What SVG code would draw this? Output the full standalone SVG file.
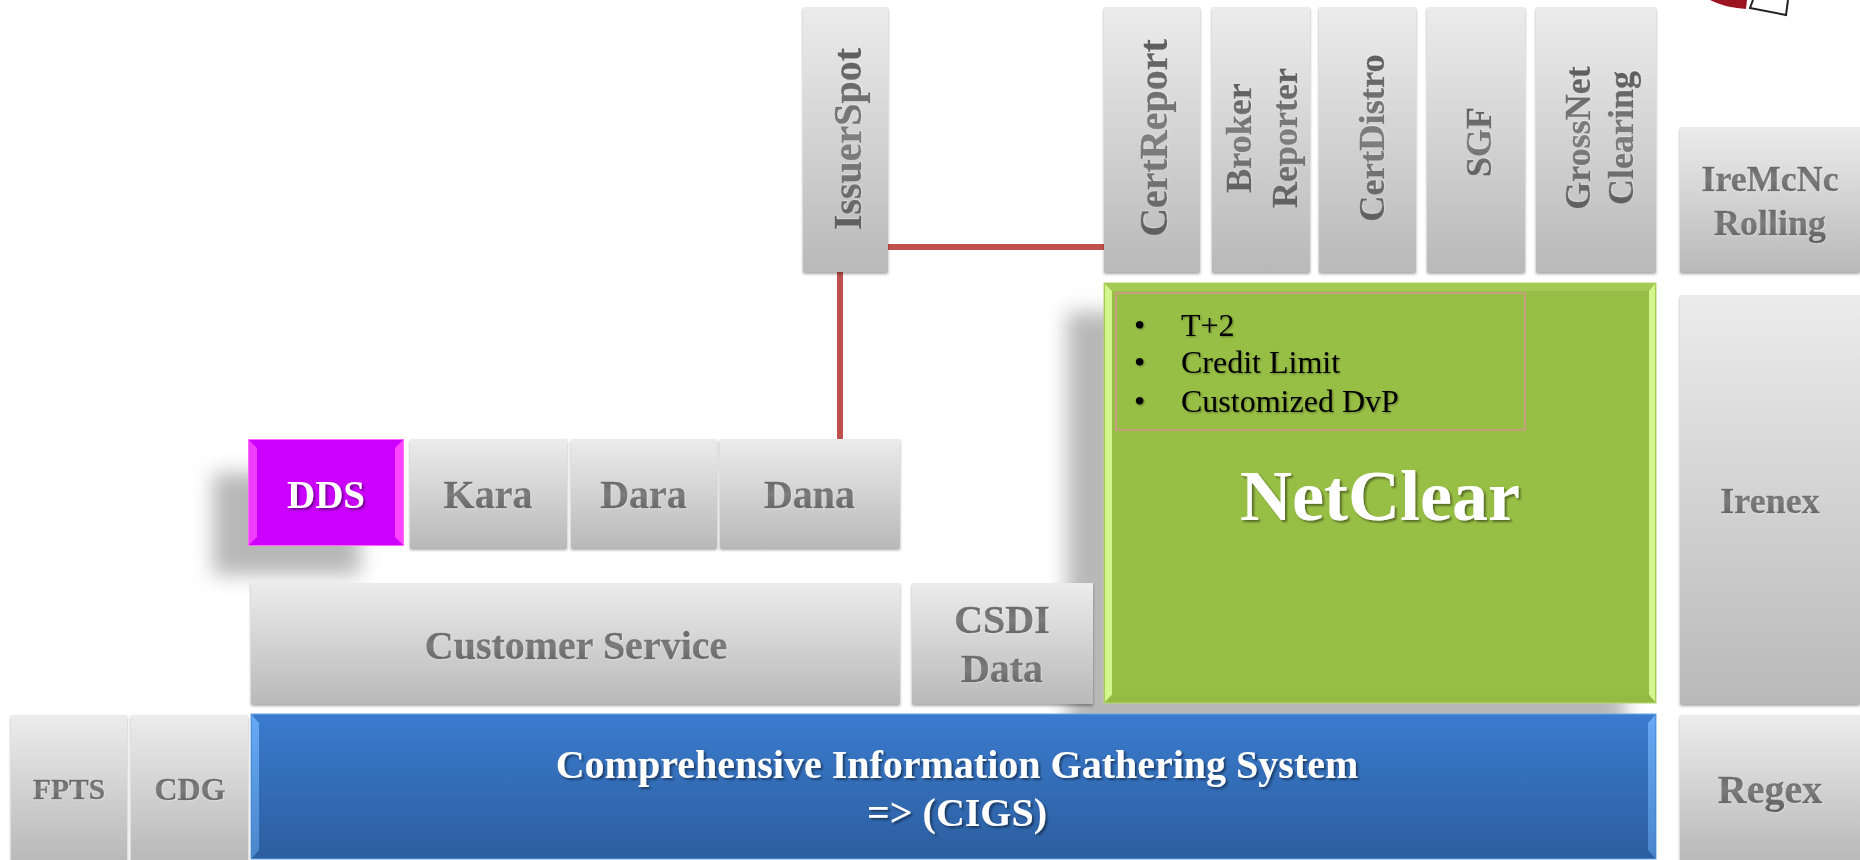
<svg xmlns="http://www.w3.org/2000/svg" width="1860" height="860" viewBox="0 0 1860 860">
<style>
text{font-family:"Liberation Serif","Times New Roman",serif}
.lb{font-weight:bold;fill:url(#metal);stroke:#6a6a6a;stroke-width:.35;filter:url(#eng);text-anchor:middle}
.v{font-weight:bold;fill:url(#metalV);stroke:#6a6a6a;stroke-width:.35;filter:url(#eng);text-anchor:middle}
.gray{fill:url(#g);filter:url(#sm)}
.w{font-weight:bold;fill:#fff;text-anchor:middle;filter:url(#ws)}
.b{font-size:32px;fill:#000;filter:url(#bs)}
.conn{stroke:#c0504d;stroke-width:6;fill:none}
</style>
<defs>
<linearGradient id="g" x1="0" y1="0" x2="0" y2="1"><stop offset="0" stop-color="#ececec"/><stop offset="1" stop-color="#b9b9b9"/></linearGradient>
<linearGradient id="blue" x1="0" y1="0" x2="0" y2="1"><stop offset="0" stop-color="#3a7bce"/><stop offset="1" stop-color="#2c5e9f"/></linearGradient>
<linearGradient id="blueB" x1="0" y1="0" x2="0" y2="1"><stop offset="0" stop-color="#66aaf5"/><stop offset="1" stop-color="#4a86cc"/></linearGradient>
<linearGradient id="metal" x1="0" y1="0" x2="0" y2="1"><stop offset="0" stop-color="#5e5e5e"/><stop offset=".5" stop-color="#7c7c7c"/><stop offset="1" stop-color="#5c5c5c"/></linearGradient>
<linearGradient id="metalV" x1="0" y1="0" x2="1" y2="0"><stop offset="0" stop-color="#5e5e5e"/><stop offset=".5" stop-color="#808080"/><stop offset="1" stop-color="#5c5c5c"/></linearGradient>
<filter id="sm" x="-10%" y="-10%" width="120%" height="120%"><feDropShadow dx="0" dy="2" stdDeviation="1.5" flood-color="#000" flood-opacity=".35"/></filter>
<filter id="eng" x="-10%" y="-20%" width="120%" height="140%"><feDropShadow dx=".6" dy=".6" stdDeviation=".2" flood-color="#fff" flood-opacity=".5"/></filter>
<filter id="ws" x="-10%" y="-20%" width="120%" height="140%"><feDropShadow dx="2" dy="2" stdDeviation="1.2" flood-color="#000" flood-opacity=".45"/></filter>
<filter id="bs" x="-10%" y="-20%" width="120%" height="140%"><feDropShadow dx="1" dy="1" stdDeviation=".8" flood-color="#000" flood-opacity=".35"/></filter>
<filter id="big" x="-20%" y="-20%" width="140%" height="140%"><feGaussianBlur stdDeviation="10"/></filter>
</defs>
<rect width="1860" height="860" fill="#fff"/>

<g id="logo">
<path d="M1710 0C1722 6 1734 8 1746 9L1747 0Z" fill="#9c1420"/>
<path d="M1753 0L1750 8L1786 15L1788 0" fill="#fff" stroke="#222" stroke-width="2"/>
</g>

<g id="shadows">
<rect x="1067" y="312" width="558" height="420" fill="#b8b8b8" filter="url(#big)"/>
<rect x="213" y="473" width="147" height="102" fill="#b8b8b8" filter="url(#big)"/>
</g>

<g id="connectors">
<path class="conn" d="M888 247H1104"/>
<path class="conn" d="M840 272V439"/>
</g>

<g id="IssuerSpot"><rect class="gray" x="803" y="7" width="85" height="265"/>
<text class="v" font-size="40" transform="translate(861 139) rotate(-90)">IssuerSpot</text></g>
<g id="CertReport"><rect class="gray" x="1104" y="7" width="96" height="265"/>
<text class="v" font-size="40" transform="translate(1167 138) rotate(-90)">CertReport</text></g>
<g id="BrokerReporter"><rect class="gray" x="1212" y="7" width="98" height="265"/>
<text class="v" font-size="36" transform="translate(1251 138) rotate(-90)">Broker</text>
<text class="v" font-size="36" transform="translate(1297 138) rotate(-90)">Reporter</text></g>
<g id="CertDistro"><rect class="gray" x="1319" y="7" width="97" height="265"/>
<text class="v" font-size="36.500" transform="translate(1384 138) rotate(-90)">CertDistro</text></g>
<g id="SGF"><rect class="gray" x="1427" y="7" width="98" height="265"/>
<text class="v" font-size="36" transform="translate(1491 142) rotate(-90)">SGF</text></g>
<g id="GrossNetClearing"><rect class="gray" x="1536" y="7" width="120" height="265"/>
<text class="v" font-size="36" transform="translate(1590 138) rotate(-90)">GrossNet</text>
<text class="v" font-size="36" transform="translate(1633 138) rotate(-90)">Clearing</text></g>
<g id="IreMcNcRolling"><rect class="gray" x="1680" y="127" width="180" height="145"/>
<text class="lb" font-size="36" x="1770" y="191">IreMcNc</text>
<text class="lb" font-size="36" x="1770" y="235">Rolling</text></g>

<g id="NetClear">
<rect x="1104" y="283" width="552" height="420" fill="#98bf45" stroke="#b5d56a" stroke-width="1"/>
<path d="M1105 284H1655L1648 291H1112Z" fill="#a4c955"/>
<path d="M1105 284L1112 291V695L1105 702Z" fill="#d5f58f"/>
<path d="M1655 284L1649 291V695L1655 702Z" fill="#d5f58f"/>
<path d="M1105 702L1112 695H1649L1655 702Z" fill="#93ba42"/>
<rect x="1116" y="293" width="409" height="137" fill="none" stroke="#d39a8c" stroke-width="1.600"/>
<text class="b" x="1134" y="336">•</text><text class="b" x="1181" y="336">T+2</text>
<text class="b" x="1134" y="373">•</text><text class="b" x="1181" y="373">Credit Limit</text>
<text class="b" x="1134" y="412">•</text><text class="b" x="1181" y="412">Customized DvP</text>
<text class="w" font-size="72" x="1380" y="520">NetClear</text>
</g>

<g id="Irenex"><rect class="gray" x="1680" y="295" width="180" height="409"/>
<text class="lb" font-size="36" x="1770" y="513">Irenex</text></g>

<g id="DDS">
<rect x="248.500" y="439.500" width="155" height="106" fill="#cc00ff" stroke="#ff66ff" stroke-width="1"/>
<path d="M249 440L257 448V537L249 545Z" fill="#f03cff"/>
<path d="M403 440L395 448V537L403 545Z" fill="#ff44ff"/>
<text class="w" font-size="39" x="326" y="508">DDS</text>
</g>
<g id="Kara"><rect class="gray" x="410" y="439" width="157" height="109"/>
<text class="lb" font-size="40" x="488" y="508">Kara</text></g>
<g id="Dara"><rect class="gray" x="571" y="439" width="146" height="109"/>
<text class="lb" font-size="40" x="643.500" y="508">Dara</text></g>
<g id="Dana"><rect class="gray" x="720" y="439" width="180" height="109"/>
<text class="lb" font-size="40" x="809.500" y="508">Dana</text></g>
<g id="CustomerService"><rect class="gray" x="251" y="583" width="649" height="121"/>
<text class="lb" font-size="40" x="576" y="659">Customer Service</text></g>
<g id="CSDIData"><rect class="gray" x="912" y="583" width="181" height="121"/>
<text class="lb" font-size="40" x="1002" y="633">CSDI</text>
<text class="lb" font-size="40" x="1002" y="682">Data</text></g>

<g id="FPTS"><rect class="gray" x="11" y="715" width="116" height="145"/>
<text class="lb" font-size="29.500" x="69" y="799">FPTS</text></g>
<g id="CDG"><rect class="gray" x="131" y="715" width="117" height="145"/>
<text class="lb" font-size="32" x="190" y="800">CDG</text></g>
<g id="CIGS">
<rect x="251" y="714" width="1405" height="145" fill="url(#blue)" stroke="#6aa6e6" stroke-width="1"/>
<path d="M252 715L259 723V850L252 858Z" fill="url(#blueB)"/>
<path d="M1655 715L1648 723V850L1655 858Z" fill="url(#blueB)"/>
<text class="w" font-size="40" x="957" y="778">Comprehensive Information Gathering System</text>
<text class="w" font-size="40" x="957" y="826">=&gt; (CIGS)</text>
</g>
<g id="Regex"><rect class="gray" x="1680" y="715" width="180" height="145"/>
<text class="lb" font-size="40" x="1770" y="803">Regex</text></g>
</svg>
